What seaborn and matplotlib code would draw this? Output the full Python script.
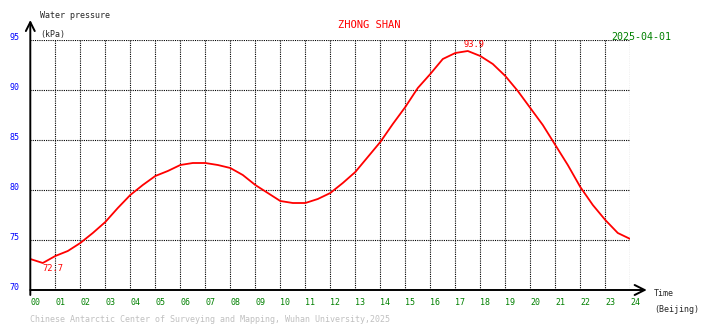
import numpy as np
import pandas as pd
import matplotlib
matplotlib.use("Agg")
import matplotlib.pyplot as plt
import seaborn as sns

# half-hourly readings (Beijing time), kPa
hours = [0.0, 0.5, 1.0, 1.5, 2.0, 2.5, 3.0, 3.5, 4.0, 4.5, 5.0, 5.5,
         6.0, 6.5, 7.0, 7.5, 8.0, 8.5, 9.0, 9.5, 10.0, 10.5, 11.0, 11.5,
         12.0, 12.5, 13.0, 13.5, 14.0, 14.5, 15.0, 15.5, 16.0, 16.5, 17.0, 17.5,
         18.0, 18.5, 19.0, 19.5, 20.0, 20.5, 21.0, 21.5, 22.0, 22.5, 23.0, 23.5, 24.0]
pressure = [73.1, 72.7, 73.4, 73.9, 74.7, 75.7, 76.8, 78.2, 79.5, 80.5, 81.4, 81.9,
            82.5, 82.7, 82.7, 82.5, 82.2, 81.5, 80.5, 79.7, 78.9, 78.7, 78.7, 79.1,
            79.7, 80.7, 81.8, 83.3, 84.8, 86.6, 88.3, 90.2, 91.6, 93.1, 93.7, 93.9,
            93.4, 92.6, 91.4, 89.9, 88.2, 86.5, 84.5, 82.5, 80.3, 78.5, 77.0, 75.7, 75.1]

x_ticks = list(range(25))
x_labels = [f"{h:02d}" for h in x_ticks]
y_ticks = [70, 75, 80, 85, 90, 95]

station = "ZHONG SHAN"
date_str = "2025-04-01"
footer = "Chinese Antarctic Center of Surveying and Mapping, Wuhan University,2025"

W, H = 710, 328

sns.set_style("white")
plt.rcParams['font.family'] = ['DejaVu Sans Mono']

fig = plt.figure(figsize=(W / 100, H / 100), dpi=100)
ax = fig.add_axes([30.3 / W, (H - 290) / H, 600 / W, 250 / H])

df = pd.DataFrame({'hour': hours, 'kPa': pressure})
sns.lineplot(data=df, x='hour', y='kPa', color='red', linewidth=1.3, ax=ax)

ax.set_xlim(0, 24)
ax.set_ylim(70, 95)
for s in ax.spines.values():
    s.set_visible(False)

# dotted grid
dots = (0, (1, 1))
for v in y_ticks[1:]:
    ax.plot([0, 24], [v, v], color='black', lw=0.8, ls=dots, zorder=1)
for h in x_ticks[1:]:
    ax.plot([h, h], [70, 95], color='black', lw=0.8, ls=dots, zorder=1)

# axes with arrows
ax.annotate('', xy=(0, 97), xytext=(0, 69.5), annotation_clip=False,
            arrowprops=dict(arrowstyle='->', lw=1.4, color='black',
                            shrinkA=0, shrinkB=0, mutation_scale=16))
ax.annotate('', xy=(24.66, 70), xytext=(0, 70), annotation_clip=False,
            arrowprops=dict(arrowstyle='->', lw=1.4, color='black',
                            shrinkA=0, shrinkB=0, mutation_scale=18))

ax.set_xticks(x_ticks)
ax.set_xticklabels(x_labels)
ax.set_yticks(y_ticks)
ax.tick_params(axis='x', length=0, pad=5.8, labelcolor='green', labelsize=6)
ax.tick_params(axis='y', length=0, pad=7.9, labelcolor='blue', labelsize=6)
for lab in ax.get_xticklabels():
    lab.set_ha('left')
for lab in ax.get_yticklabels():
    lab.set_va('baseline')
ax.set_xlabel('')
ax.set_ylabel('')

# min / max labels
i_min = int(np.argmin(pressure))
i_max = int(np.argmax(pressure))
ax.annotate(f"{pressure[i_min]:.1f}", xy=(hours[i_min], pressure[i_min]),
            xytext=(0, -1), textcoords='offset pixels', ha='left', va='top',
            color='red', fontsize=6.3, annotation_clip=False)
ax.annotate(f"{pressure[i_max]:.1f}", xy=(hours[i_max], pressure[i_max]),
            xytext=(6, 2), textcoords='offset pixels', ha='center', va='bottom',
            color='red', fontsize=6.3, annotation_clip=False)


def px(x, y):
    return x / W, 1 - y / H


fig.text(*px(40, 16), "Water pressure", fontsize=6, va='center', ha='left')
fig.text(*px(40.5, 34.5), "(kPa)", fontsize=6, va='center', ha='left')
fig.text(*px(654, 294), "Time", fontsize=6, va='center', ha='left')
fig.text(*px(654, 310), "(Beijing)", fontsize=6, va='center', ha='left')
fig.text(*px(369, 25), station, fontsize=7.5, color='red', va='center', ha='center')
fig.text(*px(611.5, 37), date_str, fontsize=7.2, color='green', va='center', ha='left')
fig.text(*px(30, 320), footer, fontsize=6, color='#c0c0c0', va='center', ha='left')

fig.savefig('out.png', dpi=100, facecolor='white')
